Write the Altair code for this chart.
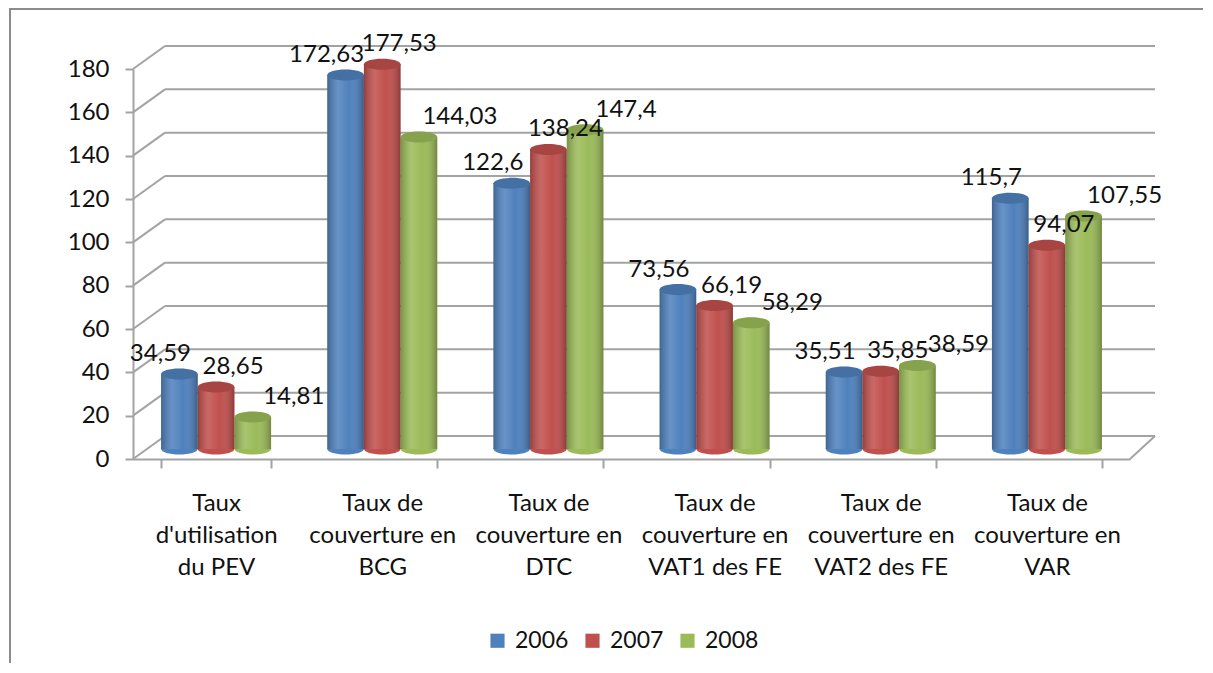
import altair as alt
import pandas as pd

categories = [
    "Taux\nd'utilisation\ndu PEV",
    "Taux de\ncouverture en\nBCG",
    "Taux de\ncouverture en\nDTC",
    "Taux de\ncouverture en\nVAT1 des FE",
    "Taux de\ncouverture en\nVAT2 des FE",
    "Taux de\ncouverture en\nVAR",
]
years = ["2006", "2007", "2008"]
v2006 = [34.59, 172.63, 122.6, 73.56, 35.51, 115.7]
v2007 = [28.65, 177.53, 138.24, 66.19, 35.85, 94.07]
v2008 = [14.81, 144.03, 147.4, 58.29, 38.59, 107.55]
y_ticks = [0, 20, 40, 60, 80, 100, 120, 140, 160, 180]
colors = ["#4F81BD", "#C0504D", "#9BBB59"]

rows = []
for cat, a, b, c in zip(categories, v2006, v2007, v2008):
    for yr, v in zip(years, (a, b, c)):
        rows.append({"cat": cat, "year": yr, "value": v})
df = pd.DataFrame(rows)
grid = pd.DataFrame({"v": y_ticks})
floor = pd.DataFrame({"v": [0]})
frame = pd.DataFrame({"k": [0]})

W, H = 997, 390
FONT = "Lato"
FS = 24
GRAY = "#a3a3a3"
BX, BY = 15, -10          # depth shift of the bars (mid plane)
WX, WY = 32, -23          # depth shift of the back wall

x_enc = alt.X(
    "cat:N", sort=categories, title=None,
    scale=alt.Scale(paddingInner=0.338, paddingOuter=0.169),
    axis=alt.Axis(
        labelExpr="split(datum.label, '\\n')", labelAngle=0, tickBand="extent",
        domainColor=GRAY, tickColor=GRAY, domainWidth=2, tickWidth=2, tickSize=9,
        labelPadding=23, labelFontSize=FS, labelLineHeight=32, labelColor="#111",
        labelBaseline="top", grid=False, labelFont=FONT,
    ),
)
xo_enc = alt.XOffset("year:N", sort=years)
y_scale = alt.Scale(domain=[0, 180], nice=False)
y_axis = alt.Axis(
    values=y_ticks, grid=False, domainColor=GRAY, tickColor=GRAY, domainWidth=2,
    tickWidth=2, tickSize=8, labelPadding=16, labelFontSize=FS, labelColor="#111",
    labelFont=FONT,
)
y_val = alt.Y("value:Q", scale=y_scale, axis=y_axis, title=None)
y_grid = alt.Y("v:Q", scale=y_scale, axis=y_axis, title=None)

frame_l = alt.Chart(frame).mark_rect(
    fillOpacity=0, stroke="#8c8c8c", strokeWidth=2
).encode(x=alt.value(-123), y=alt.value(-60), x2=alt.value(W + 300), y2=alt.value(H + 400))

back_grid = alt.Chart(grid).mark_rule(color=GRAY, strokeWidth=2, yOffset=WY).encode(
    y=y_grid, x=alt.value(WX), x2=alt.value(W + 25)
)
diag = alt.Chart(grid).mark_rule(color=GRAY, strokeWidth=2, y2Offset=WY).encode(
    y=y_grid, y2=alt.Y2("v"), x=alt.value(0), x2=alt.value(WX)
)
diag_r = alt.Chart(floor).mark_rule(color=GRAY, strokeWidth=2, y2Offset=WY).encode(
    y=y_grid, y2=alt.Y2("v"), x=alt.value(W), x2=alt.value(W + 25)
)

ELL = "M-1,0A1,0.3,0,1,0,1,0A1,0.3,0,1,0,-1,0Z"
SZ = 1344
ell_keys = ["e" + y for y in years]
fill_enc = alt.Fill("ey:N", sort=ell_keys, scale=alt.Scale(domain=ell_keys, range=colors), legend=None)

base = alt.Chart(df)
ebase = base.transform_calculate(ey="'e' + datum.year")
bottom = ebase.mark_point(shape=ELL, size=SZ, filled=True, opacity=1, strokeWidth=0,
                          xOffset=BX, yOffset=BY).encode(
    x=x_enc, xOffset=xo_enc, y=alt.datum(0), fill=fill_enc
)
bars = base.mark_bar(xOffset=BX, x2Offset=BX, yOffset=BY, y2Offset=BY).encode(
    x=x_enc, xOffset=xo_enc, y=y_val,
    color=alt.Color(
        "year:N", sort=years, scale=alt.Scale(domain=years, range=colors),
        legend=alt.Legend(
            title=None, orient="none", direction="horizontal", legendX=353, legendY=560,
            symbolType="square", symbolSize=200, symbolStrokeWidth=0, labelFontSize=23,
            labelOffset=6, columnPadding=12, labelColor="#111", labelFont=FONT,
        ),
    ),
)
shade = base.mark_bar(
    xOffset=BX, x2Offset=BX, yOffset=BY, y2Offset=BY,
    color=alt.Gradient(
        gradient="linear", x1=0, x2=1, y1=0, y2=0,
        stops=[
            alt.GradientStop(color="rgba(0,0,0,0.22)", offset=0),
            alt.GradientStop(color="rgba(255,255,255,0.14)", offset=0.3),
            alt.GradientStop(color="rgba(255,255,255,0.0)", offset=0.6),
            alt.GradientStop(color="rgba(0,0,0,0.28)", offset=1),
        ],
    ),
).encode(x=x_enc, xOffset=xo_enc, y=y_val)
top = ebase.mark_point(shape=ELL, size=SZ, filled=True, opacity=1, strokeWidth=0,
                       xOffset=BX, yOffset=BY).encode(
    x=x_enc, xOffset=xo_enc, y=y_val, fill=fill_enc
)
top_dark = base.mark_point(shape=ELL, size=SZ, filled=True, opacity=0.13, color="black",
                           strokeWidth=0, xOffset=BX, yOffset=BY).encode(
    x=x_enc, xOffset=xo_enc, y=y_val
)

lbl = base.transform_calculate(lbl="replace(toString(datum.value), '.', ',')")
label_dx = {"2006": -19, "2007": 17, "2008": 41}
texts = []
for yr in years:
    texts.append(
        lbl.transform_filter(alt.datum.year == yr).mark_text(
            dx=label_dx[yr], dy=BY - 20, fontSize=FS, font=FONT, color="#111", baseline="middle"
        ).encode(x=x_enc, xOffset=xo_enc, y=y_val, text="lbl:N")
    )

chart = alt.layer(
    frame_l, back_grid, diag, diag_r, bottom, bars, shade, top, top_dark, *texts
).properties(
    width=W, height=H,
    padding={"left": 125, "top": 61, "right": 73, "bottom": 204},
    autosize=alt.AutoSizeParams(type="none"),
    background="white",
).configure(font=FONT).configure_view(stroke=None)

chart.save("out.html", embed_options={"renderer": "svg", "actions": False})
